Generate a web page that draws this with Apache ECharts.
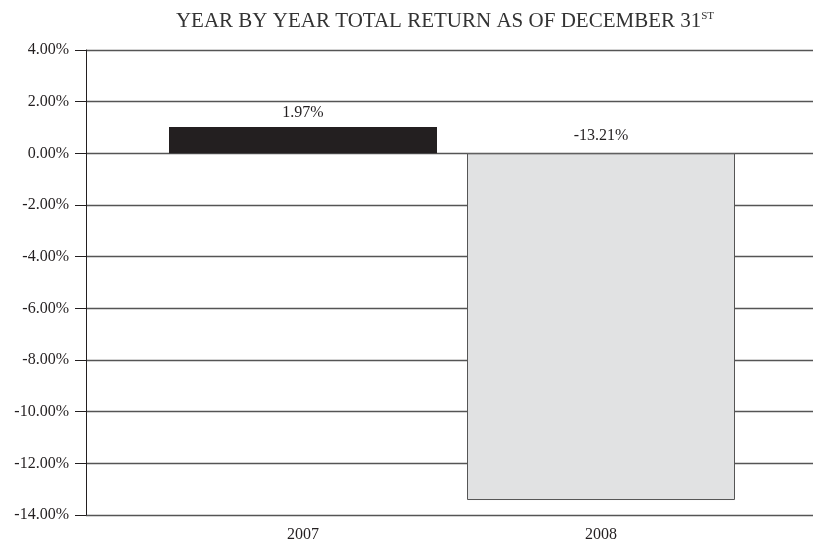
<!DOCTYPE html>
<html><head><meta charset="utf-8">
<script src="https://cdn.jsdelivr.net/npm/echarts@6/dist/echarts.min.js"></script>
<style>html,body{margin:0;padding:0;background:#fff}#c{width:813px;height:543px}</style>
</head><body><div id="c"></div>
<script>
const categories = ['2007', '2008'];
const values = [1.02, -13.42];           // bar heights as drawn
const valueLabels = ['1.97%', '-13.21%']; // printed labels
const yTicks = { min: -14, max: 4, interval: 2 };
const barColors = ['#231f20', '#e1e2e3'];

const font = '"Liberation Serif", "DejaVu Serif", serif';
const chart = echarts.init(document.getElementById('c'));
chart.setOption({
  backgroundColor: '#fff',
  animation: false,
  title: {
    text: '{m|YEAR BY YEAR TOTAL RETURN AS OF DECEMBER 31}{s|ST}',
    left: 440, top: 6, textAlign: 'center',
    textStyle: {
      fontWeight: 'normal',
      rich: {
        m: { fontFamily: font, fontSize: 21, fontWeight: 'normal', color: '#333', verticalAlign: 'bottom' },
        s: { fontFamily: font, fontSize: 11, fontWeight: 'normal', color: '#333', verticalAlign: 'top', padding: [0,0,10,0] }
      }
    }
  },
  grid: [
    { left: 86, right: 0, top: 50, bottom: 28 },
    { left: 154, right: 63, top: 50, bottom: 28 }
  ],
  xAxis: [
    { gridIndex: 0, type: 'category', data: categories, show: false },
    { gridIndex: 1, type: 'category', data: categories,
      axisLine: { show: false }, axisTick: { show: false },
      axisLabel: { fontFamily: font, fontSize: 16, color: '#231f20', margin: 12 } }
  ],
  yAxis: [
    { gridIndex: 0, type: 'value', min: yTicks.min, max: yTicks.max, interval: yTicks.interval,
      axisLine: { show: true, lineStyle: { color: '#231f20', width: 1 } },
      axisTick: { show: true, length: 11, lineStyle: { color: '#231f20' } },
      axisLabel: { fontFamily: font, fontSize: 16, color: '#231f20', margin: 17,
        formatter: v => v.toFixed(2) + '%' },
      splitLine: { show: true, lineStyle: { color: '#555', width: 1.3 } } },
    { gridIndex: 1, type: 'value', min: yTicks.min, max: yTicks.max, interval: yTicks.interval, show: false }
  ],
  series: [{
    type: 'bar', xAxisIndex: 1, yAxisIndex: 1, barWidth: 268,
    data: values.map((v, i) => ({
      value: v,
      itemStyle: { color: barColors[i], borderColor: i === 1 ? '#555' : barColors[i], borderWidth: i === 1 ? 1 : 0 },
      label: {
        show: true,
        position: v >= 0 ? 'top' : 'insideTop',
        offset: v >= 0 ? [0, -1] : [0, -31],
        formatter: () => valueLabels[i],
        fontFamily: font, fontSize: 16, color: '#231f20'
      }
    }))
  }]
});
</script></body></html>
